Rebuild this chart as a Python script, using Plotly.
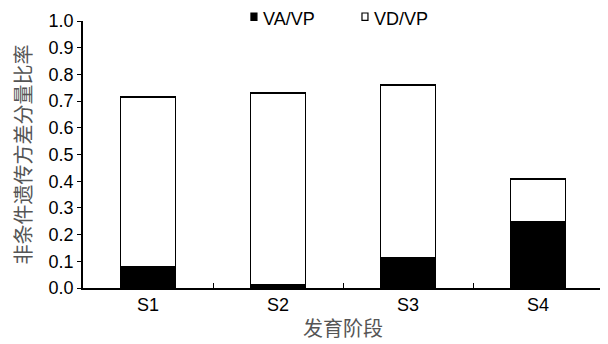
import plotly.graph_objects as go

categories = ["S1", "S2", "S3", "S4"]
va_vp = [0.08, 0.013, 0.114, 0.25]
vd_vp = [0.635, 0.718, 0.646, 0.158]
y_ticks = [0.0, 0.1, 0.2, 0.3, 0.4, 0.5, 0.6, 0.7, 0.8, 0.9, 1.0]
legend_names = ["VA/VP", "VD/VP"]

FONT = "Liberation Sans, Arial, sans-serif"
CJK = "Noto Sans CJK SC, sans-serif"

fig = go.Figure()
fig.add_trace(go.Bar(x=categories, y=va_vp, name=legend_names[0], showlegend=False,
                     marker=dict(color="black", line=dict(color="black", width=1.5))))
fig.add_trace(go.Bar(x=categories, y=vd_vp, name=legend_names[1], showlegend=False,
                     marker=dict(color="white", line=dict(color="black", width=1.5))))

# custom legend (paper coords)
leg = [(0.323, legend_names[0], "black"), (0.5365, legend_names[1], "white")]
for x0, name, col in leg:
    fig.add_shape(type="rect", xref="paper", yref="paper",
                  x0=x0, x1=x0 + 0.0115, y0=1.002, y1=1.030,
                  fillcolor=col, line=dict(color="black", width=1.2))
    fig.add_annotation(xref="paper", yref="paper", x=x0 + 0.019, y=1.008,
                       xanchor="left", yanchor="middle", text=name, showarrow=False,
                       font=dict(family=FONT, size=18, color="black"))

fig.update_layout(
    barmode="stack",
    bargap=0.58,
    width=600, height=336,
    margin=dict(l=75, r=5, t=13, b=56),
    paper_bgcolor="white", plot_bgcolor="white",
    font=dict(family=FONT, size=17, color="black"),
    showlegend=False,
    xaxis=dict(showline=True, linecolor="black", linewidth=1.5, ticks="inside",
               tickson="boundaries", ticklen=5, tickcolor="black", automargin=False,
               showgrid=False, tickfont=dict(size=18),
               title=dict(text="发育阶段", font=dict(family=CJK, size=20, color="#555"),
                          standoff=8)),
    yaxis=dict(range=[0, 1.0], tickvals=y_ticks, tickformat=".1f", automargin=False,
               showline=True, linecolor="black", linewidth=1.5, ticks="outside",
               ticklen=4, tickcolor="black", showgrid=False, zeroline=False,
               tickfont=dict(size=18),
               title=dict(text="非条件遗传方差分量比率", font=dict(family=CJK, size=20, color="#555"),
                          standoff=12)),
)

fig.write_html("out.html")
